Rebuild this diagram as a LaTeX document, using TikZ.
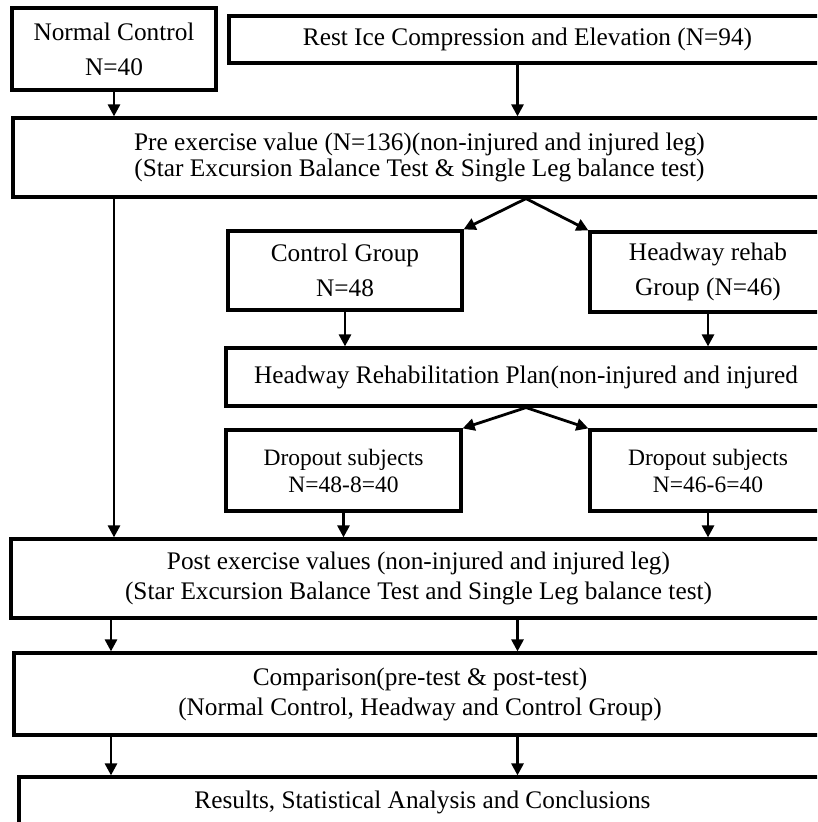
\documentclass[tikz,border=0pt]{standalone}
\usepackage{fontspec}
\setmainfont{Liberation Serif}
\usetikzlibrary{positioning,arrows.meta}

\begin{document}
\begin{tikzpicture}[%
	x=1pt, y=-1pt,
	every text node part/.style={align=center},
	->,
	>={Triangle[length=12pt,width=12pt]},
	line width=2.8pt,
	box/.style={%
		rectangle,
		draw,
		line width=3.2pt,
		inner sep=0pt,
		font=\fontsize{25.3}{35}\selectfont
	},
	dropbox/.style={%
		box,
		font=\fontsize{23.5}{27}\selectfont
	},
	widebox/.style={%
		box,
		font=\fontsize{25.3}{30}\selectfont
	}
	]

	\useasboundingbox (0,0) rectangle (817,822);
	\clip (0,0) rectangle (817,822);

	\node[box, minimum width=204pt, minimum height=82pt] (normal) at (114,49) {Normal Control\\N=40};
	\node[box, minimum width=597pt, minimum height=47pt] (rice) at (527.5,39.5) {Rest Ice Compression and Elevation (N=94)};
	\node[widebox, font=\fontsize{25.3}{26}\selectfont, minimum width=813pt, minimum height=79pt] (pre) at (419.5,157.5) {Pre exercise value (N=136)(non-injured and injured leg)\\(Star Excursion Balance Test \& Single Leg balance test)};
	\node[box, minimum width=234pt, minimum height=79pt] (control) at (345,270.5) {Control Group\\N=48};
	\node[box, minimum width=236pt, minimum height=80pt] (headway) at (708,272) {Headway rehab\\Group (N=46)};
	\node[box, minimum width=600pt, minimum height=58pt] (plan) at (526,377) {Headway Rehabilitation Plan(non-injured and injured};
	\node[dropbox, minimum width=235pt, minimum height=81pt] (dropa) at (343.5,470.5) {Dropout subjects\\N=48-8=40};
	\node[dropbox, minimum width=236pt, minimum height=81pt] (dropb) at (708,470.5) {Dropout subjects\\N=46-6=40};
	\node[widebox, minimum width=815pt, minimum height=79pt] (post) at (418.5,578.5) {Post exercise values (non-injured and injured leg)\\(Star Excursion Balance Test and Single Leg balance test)};
	\node[widebox, minimum width=812pt, minimum height=82pt] (compare) at (420,694) {Comparison(pre-test \& post-test)\\(Normal Control, Headway and Control Group)};
	\node[box, minimum width=807pt, minimum height=50pt] (results) at (422.5,802) {Results, Statistical Analysis and Conclusions};

	\coordinate (riceout) at ([xshift=-10pt]rice.south);
	\coordinate (split) at (plan.north |- pre.south);

	\draw (normal.south) -- (normal.south |- pre.north);
	\draw (riceout) -- (riceout |- pre.north);
	\draw (normal.south |- pre.south) -- (normal.south |- post.north);
	\draw (split) -- (control.north east);
	\draw (split) -- (headway.north west);
	\draw (control.south) -- (control.south |- plan.north);
	\draw (headway.south) -- (headway.south |- plan.north);
	\draw (plan.south) -- (dropa.north east);
	\draw (plan.south) -- (dropb.north west);
	\draw (dropa.south) -- (dropa.south |- post.north);
	\draw (dropb.south) -- (dropb.south |- post.north);
	\draw ([xshift=-3pt]normal.south |- post.south) -- ([xshift=-3pt]normal.south |- compare.north);
	\draw (riceout |- post.south) -- (riceout |- compare.north);
	\draw ([xshift=-3pt]normal.south |- compare.south) -- ([xshift=-3pt]normal.south |- results.north);
	\draw (riceout |- compare.south) -- (riceout |- results.north);
\end{tikzpicture}
\end{document}
